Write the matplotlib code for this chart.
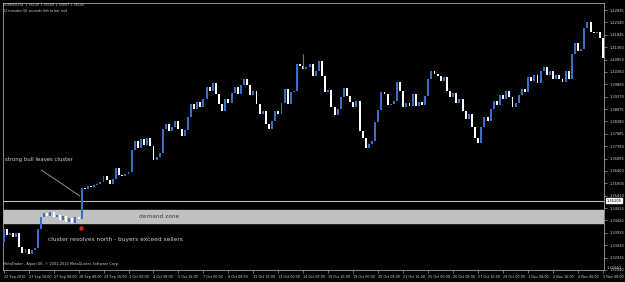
import matplotlib
matplotlib.use("Agg")
import matplotlib.pyplot as plt
import numpy as np

# EURUSD H4, 22 Sep - 5 Nov 2010
first_open = 1.3355
closes = [
    1.3406, 1.3382, 1.3390, 1.3375, 1.3390, 1.3335, 1.3311, 1.3327, 1.3307, 1.3323,
    1.3331, 1.3406, 1.3454, 1.3473, 1.3458, 1.3477, 1.3454, 1.3465, 1.3442, 1.3458,
    1.3434, 1.3450, 1.3430, 1.3454, 1.3446, 1.3572, 1.3568, 1.3580, 1.3576, 1.3584,
    1.3588, 1.3596, 1.3620, 1.3604, 1.3588, 1.3608, 1.3651, 1.3624, 1.3620, 1.3628,
    1.3635, 1.3722, 1.3758, 1.3730, 1.3766, 1.3742, 1.3770, 1.3738, 1.3683, 1.3695,
    1.3711, 1.3809, 1.3829, 1.3798, 1.3817, 1.3841, 1.3809, 1.3778, 1.3802, 1.3857,
    1.3908, 1.3889, 1.3916, 1.3896, 1.3928, 1.3976, 1.3960, 1.3991, 1.3948, 1.3908,
    1.3881, 1.3928, 1.3912, 1.3952, 1.3976, 1.3948, 1.3983, 1.4007, 1.3983, 1.3944,
    1.3960, 1.3908, 1.3869, 1.3881, 1.3829, 1.3809, 1.3841, 1.3881, 1.3869, 1.3912,
    1.3968, 1.3908, 1.3956, 1.3960, 1.4066, 1.4059, 1.4047, 1.4055, 1.4066, 1.4019,
    1.4039, 1.4078, 1.4019, 1.3956, 1.3964, 1.3896, 1.3865, 1.3889, 1.3936, 1.3972,
    1.3940, 1.3916, 1.3896, 1.3920, 1.3798, 1.3770, 1.3730, 1.3746, 1.3758, 1.3837,
    1.3885, 1.3956, 1.3948, 1.3904, 1.3908, 1.3920, 1.3995, 1.3960, 1.3896, 1.3912,
    1.3900, 1.3948, 1.3900, 1.3916, 1.3904, 1.3940, 1.4007, 1.4039, 1.4027, 1.4019,
    1.3999, 1.4015, 1.3960, 1.3936, 1.3952, 1.3912, 1.3928, 1.3881, 1.3849, 1.3869,
    1.3817, 1.3770, 1.3750, 1.3817, 1.3857, 1.3841, 1.3889, 1.3920, 1.3904, 1.3944,
    1.3928, 1.3960, 1.3936, 1.3896, 1.3912, 1.3944, 1.3968, 1.3956, 1.4015, 1.3999,
    1.4023, 1.3991, 1.4039, 1.4055, 1.4023, 1.4039, 1.4007, 1.4023, 1.4007, 1.3995,
    1.4039, 1.4007, 1.4106, 1.4150, 1.4118, 1.4126, 1.4213, 1.4237, 1.4197, 1.4193,
    1.4197, 1.4173, 1.4090,
]

time_labels = ["22 Sep 2010", "23 Sep 16:00", "27 Sep 00:00", "28 Sep 08:00", "29 Sep 16:00",
               "1 Oct 00:00", "4 Oct 08:00", "5 Oct 16:00", "7 Oct 00:00", "8 Oct 08:00",
               "11 Oct 16:00", "13 Oct 00:00", "14 Oct 08:00", "15 Oct 16:00", "19 Oct 00:00",
               "20 Oct 08:00", "21 Oct 16:00", "25 Oct 00:00", "26 Oct 08:00", "27 Oct 16:00",
               "29 Oct 00:00", "1 Nov 08:00", "2 Nov 16:00", "4 Nov 00:00", "5 Nov 08:00"]
price_labels = ["1.32440", "1.32935", "1.33430", "1.33925", "1.34420", "1.34915", "1.35410",
                "1.35905", "1.36400", "1.36895", "1.37390", "1.37885", "1.38380", "1.38875",
                "1.39370", "1.39865", "1.40360", "1.40855", "1.41350", "1.41845", "1.42340",
                "1.42835"]

zone_low, zone_high = 1.3430, 1.3485
level = 1.35208
arrow_from = (12.2, 1.3643)
arrow_to = (24.3, 1.3541)
signal_bar, signal_price = 24.7, 1.3410
green_bar, green_lo, green_hi = 96, 1.4051, 1.4106

bull = "#3a6fc8"
bear = "#ffffff"
fg = "#d0d0d0"

fig = plt.figure(figsize=(6.25, 2.82), dpi=100, facecolor="black")
ax = fig.add_axes([3 / 625, 12 / 282, 601 / 625, 267 / 282], facecolor="black")

n = len(closes)
x = np.arange(n)
opens = np.array([first_open] + closes[:-1])
c = np.array(closes)
bottoms = np.minimum(opens, c)
heights = np.maximum(np.abs(c - opens), 0.0004)
colors = [bull if cl >= op else bear for op, cl in zip(opens, c)]

# demand zone behind the candles
ax.axhspan(zone_low, zone_high, color="#c0c0c0", zorder=1)
ax.axhline(level, color="#c0c0c0", lw=0.8, zorder=2)

ax.bar(x, heights, bottom=bottoms, width=0.62, color=colors, linewidth=0, zorder=3)
ax.vlines(green_bar, green_lo, green_hi, color="#2aa02a", lw=0.8, zorder=4)

ax.plot([arrow_from[0], arrow_to[0]], [arrow_from[1], arrow_to[1]], color="#a8a878", lw=0.6, zorder=4)
ax.plot(signal_bar, signal_price, marker="o", ms=2.2, color="#d02020", mec="#d02020", zorder=4)

ax.text(0.6, 1.3687, "strong bull leaves cluster", color=fg, fontsize=3.9, va="center", zorder=5)
ax.text(43.5, 1.3458, "demand zone", color="#404040", fontsize=4.2, va="center", zorder=5)
ax.text(14.1, 1.3367, "cluster resolves north - buyers exceed sellers", color=fg, fontsize=4.2,
        va="center", zorder=5)

ax.set_xlim(-0.2, 192.3)
ax.set_ylim(1.32559, 1.43116)

ax.set_xticks(np.arange(0, n, 8))
ax.set_xticklabels(time_labels, ha="left", fontsize=2.45, color=fg)
ax.tick_params(axis="x", colors="#a0a0a0", length=2.5, width=0.5, pad=1.2, labelcolor=fg)

yt = [float(p) for p in price_labels]
ax.yaxis.tick_right()
ax.set_yticks(yt)
ax.set_yticklabels(price_labels, fontsize=2.6, color=fg)
ax.tick_params(axis="y", colors="#a0a0a0", length=2.5, width=0.5, pad=1.5, labelcolor=fg)
# lowest price label sits just below the plot frame
ax.text(1.004, yt[0] + 0.0009, price_labels[0], transform=ax.get_yaxis_transform(), fontsize=2.6,
        color=fg, va="center", clip_on=False)

# current level box on the price scale
ax.text(1.004, level, "1.35205", transform=ax.get_yaxis_transform(), fontsize=2.6, color="black",
        va="center", clip_on=False, zorder=6,
        bbox=dict(boxstyle="square,pad=0.15", fc="white", ec="white"))

for s in ax.spines.values():
    s.set_color("#a0a0a0")
    s.set_linewidth(0.6)

fig.text(3 / 625, 1 - 5 / 282, "EURUSD,H4  1.35130 1.35149 1.35097 1.35105", color=fg,
         fontsize=2.4, va="center")
fig.text(3 / 625, 1 - 11 / 282, "12 minutes 56 seconds left to bar end", color=fg,
         fontsize=2.4, va="center")
fig.text(3 / 625, 1 - 264 / 282, "MetaTrader - Alpari UK, \u00a9 2001-2010 MetaQuotes Software Corp.",
         color=fg, fontsize=2.5, va="center")

fig.savefig("out.png", dpi=100, facecolor="black")
